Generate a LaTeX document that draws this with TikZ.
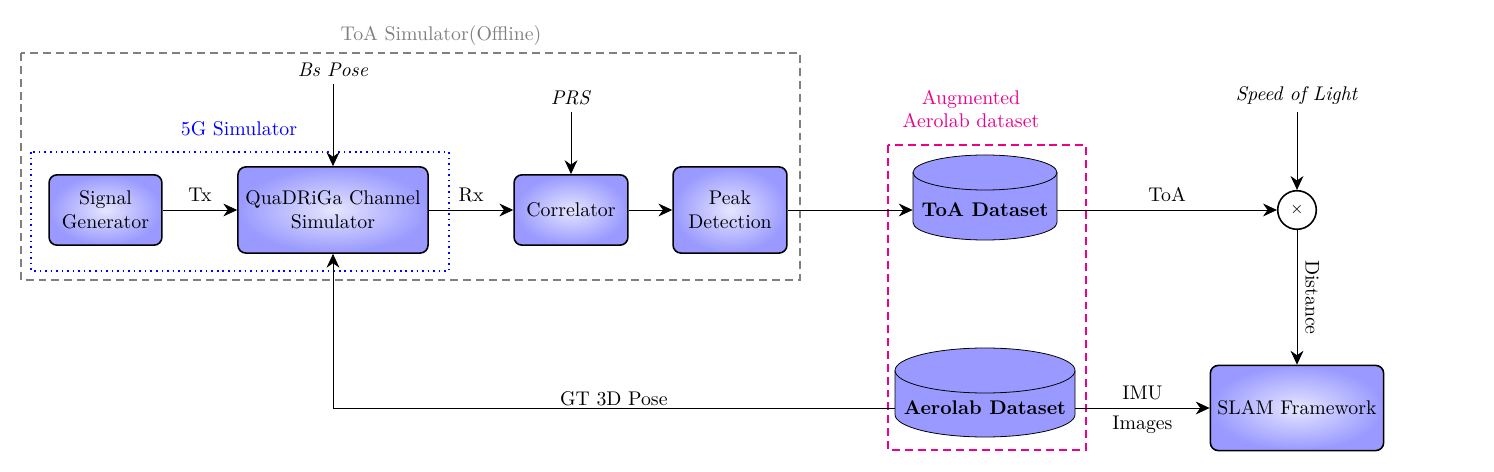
\documentclass[tikz,border=0pt]{standalone}
\usetikzlibrary{arrows.meta,calc}
\definecolor{augpink}{RGB}{236,0,140}
\begin{document}
\begin{tikzpicture}[x=0.505pt,y=-0.505pt,
  blk/.style={draw=black, thick, rounded corners=4pt, inner color=blue!10, outer color=blue!40, align=center, inner sep=1pt},
  conn/.style={thin, -{Stealth[length=7pt,width=6.5pt]}},
  lbl/.style={inner sep=1pt},
  cyl/.style={thin}]
\useasboundingbox (0,0) rectangle (1494,472);
% grouping boxes
\draw[gray, thick, dash pattern=on 4pt off 2.5pt] (21,53) rectangle (800,280);
\node[gray] (toalbl) at (441,36) {ToA Simulator(Offline)};
\draw[blue, thick, dotted] (31,152) rectangle (449,271);
\node[blue] (fglbl) at (239,129) {5G Simulator};
\draw[augpink, thick, dash pattern=on 4pt off 2.5pt] (888,145) rectangle (1086,450);
\node[augpink, align=center] (auglbl) at (971,109) {Augmented\\Aerolab dataset};
% blocks
\node[blk, minimum width=57pt, minimum height=35.5pt] (sig) at (105.5,210) {Signal\\Generator};
\node[blk, minimum width=96pt, minimum height=43.5pt] (qua) at (333,210) {QuaDRiGa Channel\\Simulator};
\node[blk, minimum width=57.5pt, minimum height=35.5pt] (cor) at (571,210) {Correlator};
\node[blk, minimum width=57.5pt, minimum height=43.5pt] (peak) at (730,210) {Peak\\Detection};
\node[blk, minimum width=87.5pt, minimum height=43pt] (slam) at (1297,408) {SLAM Framework};
% inputs
\node (bs) at (333,70) {\textit{Bs Pose}};
\node (prs) at (571,98) {\textit{PRS}};
\node (sol) at (1297,96) {\textit{Speed of Light}};
% cylinders
\fill[blue!40] (913,172.5) -- (913,222.5) arc[start angle=180,end angle=360,x radius=36.36pt,y radius=8.84pt] -- (1057,172.5) arc[start angle=0,end angle=180,x radius=36.36pt,y radius=8.84pt] -- cycle;
\draw[cyl] (913,172.5) -- (913,222.5) arc[start angle=180,end angle=360,x radius=36.36pt,y radius=8.84pt] -- (1057,172.5);
\draw[cyl] (985,172.5) ellipse[x radius=36.36pt,y radius=8.84pt];
\node[inner sep=0pt, minimum width=72.7pt, minimum height=12pt] (toa) at (985,210) {\textbf{ToA Dataset}};
\fill[blue!40] (895,370.5) -- (895,414.5) arc[start angle=180,end angle=360,x radius=45.45pt,y radius=11.36pt] -- (1075,370.5) arc[start angle=0,end angle=180,x radius=45.45pt,y radius=11.36pt] -- cycle;
\draw[cyl] (895,370.5) -- (895,414.5) arc[start angle=180,end angle=360,x radius=45.45pt,y radius=11.36pt] -- (1075,370.5);
\draw[cyl] (985,370.5) ellipse[x radius=45.45pt,y radius=11.36pt];
\node[inner sep=0pt, minimum width=90.9pt, minimum height=12pt] (aero) at (985,408) {\textbf{Aerolab Dataset}};
% multiplier
\node[draw, thick, circle, minimum size=19.5pt, inner sep=0pt, fill=white] (mul) at (1297,210) {\footnotesize$\times$};
% connectors
\draw[conn] (sig) -- node[above, lbl, yshift=3pt] {Tx} (qua);
\draw[conn] (qua) -- node[above, lbl, yshift=3pt] {Rx} (cor);
\draw[conn] (cor) -- (peak);
\draw[conn] (peak) -- (toa);
\draw[conn] (bs) -- (qua);
\draw[conn] (prs) -- (cor);
\draw[conn] (sol) -- (mul);
\draw[conn] (toa) -- node[above, lbl, yshift=3pt] {ToA} (mul);
\draw[conn] (mul) -- node[lbl, xshift=3pt, rotate=-90, anchor=south] {Distance} (slam);
\draw[conn] (aero) -- node[above, lbl, yshift=3pt] {IMU} node[below, lbl, yshift=-3pt] {Images} (slam);
\draw[conn] (aero.west) -- node[above, lbl, pos=0.5] {GT 3D Pose} (aero.west -| qua.south) -- (qua.south);
\end{tikzpicture}
\end{document}
